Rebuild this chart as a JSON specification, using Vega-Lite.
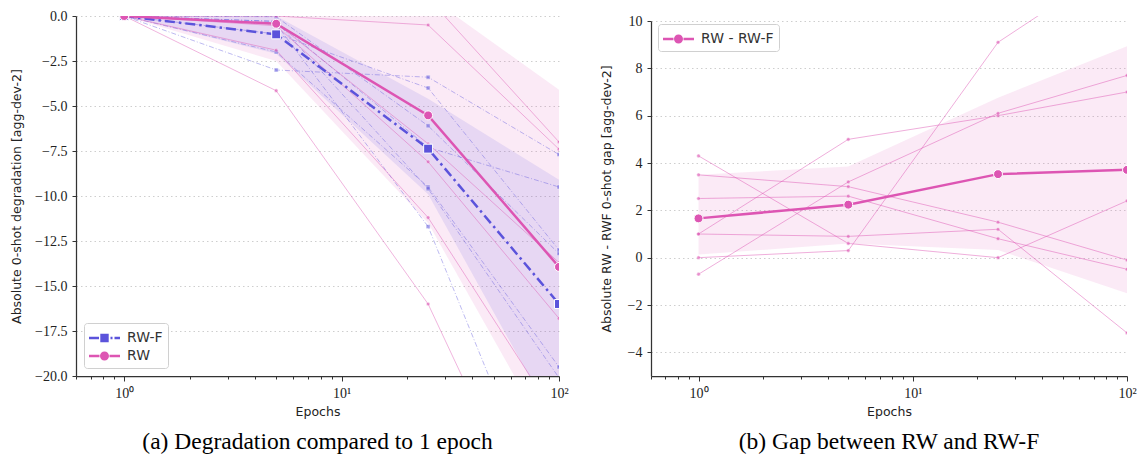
{
  "$schema": "https://vega.github.io/schema/vega-lite/v6.json",
  "background": "white",
  "padding": {"left": 10, "top": 9, "right": 5, "bottom": 5},
  "spacing": 31,
  "config": {
    "view": {"stroke": null},
    "axis": {"domainColor": "#333333", "domainWidth": 1.25, "tickColor": "#333333", "tickWidth": 1, "labelFont": "Liberation Serif", "labelFontSize": 14, "labelColor": "#222222", "titleFont": "DejaVu Sans", "titleFontSize": 12.5, "titleFontWeight": "normal", "titleColor": "#222222", "gridColor": "#c8c8c8", "gridDash": [1.5, 3], "gridWidth": 0.9, "labelPadding": 5},
    "legend": {"labelFont": "DejaVu Sans", "labelFontSize": 14, "labelColor": "#333333", "fillColor": "white", "strokeColor": "#d0d0d0", "cornerRadius": 3, "padding": 5, "symbolSize": 400, "symbolStrokeWidth": 0, "symbolOpacity": 1, "rowPadding": 1, "labelOffset": 18, "title": null},
    "title": {"font": "Liberation Serif", "fontSize": 23.5, "fontWeight": "normal", "color": "black", "orient": "bottom", "frame": "group", "anchor": "middle", "offset": 12}
  },
  "resolve": {"scale": {"color": "independent", "shape": "independent", "fill": "independent", "stroke": "independent"}},
  "datasets": {
    "band": [
      {"method": "RW-F", "epoch": 1, "lo": 0, "hi": 0},
      {"method": "RW-F", "epoch": 5, "lo": -2.1, "hi": 0},
      {"method": "RW-F", "epoch": 25, "lo": -9.9, "hi": -4.6},
      {"method": "RW-F", "epoch": 100, "lo": -23, "hi": -9.1},
      {"method": "RW", "epoch": 1, "lo": 0, "hi": 0},
      {"method": "RW", "epoch": 5, "lo": -2.5, "hi": 0.8},
      {"method": "RW", "epoch": 25, "lo": -11.5, "hi": 1.1},
      {"method": "RW", "epoch": 100, "lo": -24.4, "hi": -4.1}
    ],
    "runs": [
      {"method": "RW-F", "run": 1, "epoch": 1, "value": 0}, {"method": "RW-F", "run": 1, "epoch": 5, "value": -0.45}, {"method": "RW-F", "run": 1, "epoch": 25, "value": -11.7}, {"method": "RW-F", "run": 1, "epoch": 100, "value": -29.6},
      {"method": "RW-F", "run": 2, "epoch": 1, "value": 0}, {"method": "RW-F", "run": 2, "epoch": 5, "value": -0.04}, {"method": "RW-F", "run": 2, "epoch": 25, "value": -6.1}, {"method": "RW-F", "run": 2, "epoch": 100, "value": -13.2},
      {"method": "RW-F", "run": 3, "epoch": 1, "value": 0}, {"method": "RW-F", "run": 3, "epoch": 5, "value": -2.0}, {"method": "RW-F", "run": 3, "epoch": 25, "value": -9.5}, {"method": "RW-F", "run": 3, "epoch": 100, "value": -19.5},
      {"method": "RW-F", "run": 4, "epoch": 1, "value": 0}, {"method": "RW-F", "run": 4, "epoch": 5, "value": -0.3}, {"method": "RW-F", "run": 4, "epoch": 25, "value": -7.3}, {"method": "RW-F", "run": 4, "epoch": 100, "value": -9.5},
      {"method": "RW-F", "run": 5, "epoch": 1, "value": 0}, {"method": "RW-F", "run": 5, "epoch": 5, "value": -1.0}, {"method": "RW-F", "run": 5, "epoch": 25, "value": -4.0}, {"method": "RW-F", "run": 5, "epoch": 100, "value": -13.0},
      {"method": "RW-F", "run": 6, "epoch": 1, "value": 0}, {"method": "RW-F", "run": 6, "epoch": 5, "value": -0.3}, {"method": "RW-F", "run": 6, "epoch": 25, "value": -9.6}, {"method": "RW-F", "run": 6, "epoch": 100, "value": -20.1},
      {"method": "RW-F", "run": 7, "epoch": 1, "value": 0}, {"method": "RW-F", "run": 7, "epoch": 5, "value": -3.0}, {"method": "RW-F", "run": 7, "epoch": 25, "value": -3.4}, {"method": "RW-F", "run": 7, "epoch": 100, "value": -7.7},
      {"method": "RW", "run": 1, "epoch": 1, "value": 0}, {"method": "RW", "run": 1, "epoch": 5, "value": -4.15}, {"method": "RW", "run": 1, "epoch": 25, "value": -16.0}, {"method": "RW", "run": 1, "epoch": 100, "value": -31.5},
      {"method": "RW", "run": 2, "epoch": 1, "value": 0}, {"method": "RW", "run": 2, "epoch": 5, "value": -0.54}, {"method": "RW", "run": 2, "epoch": 25, "value": -8.1}, {"method": "RW", "run": 2, "epoch": 100, "value": -16.8},
      {"method": "RW", "run": 3, "epoch": 1, "value": 0}, {"method": "RW", "run": 3, "epoch": 5, "value": -1.9}, {"method": "RW", "run": 3, "epoch": 25, "value": -11.2}, {"method": "RW", "run": 3, "epoch": 100, "value": -22.5},
      {"method": "RW", "run": 4, "epoch": 1, "value": 0}, {"method": "RW", "run": 4, "epoch": 5, "value": -0.4}, {"method": "RW", "run": 4, "epoch": 25, "value": -7.1}, {"method": "RW", "run": 4, "epoch": 100, "value": -13.7},
      {"method": "RW", "run": 5, "epoch": 1, "value": 0}, {"method": "RW", "run": 5, "epoch": 5, "value": 3.0}, {"method": "RW", "run": 5, "epoch": 25, "value": 1.0}, {"method": "RW", "run": 5, "epoch": 100, "value": -7.0},
      {"method": "RW", "run": 6, "epoch": 1, "value": 0}, {"method": "RW", "run": 6, "epoch": 5, "value": 0.0}, {"method": "RW", "run": 6, "epoch": 25, "value": -0.5}, {"method": "RW", "run": 6, "epoch": 100, "value": -7.4},
      {"method": "RW", "run": 7, "epoch": 1, "value": 0}, {"method": "RW", "run": 7, "epoch": 5, "value": 0.9}, {"method": "RW", "run": 7, "epoch": 25, "value": 3.4}, {"method": "RW", "run": 7, "epoch": 100, "value": 0.7}
    ],
    "mean": [
      {"method": "RW-F", "epoch": 1, "value": 0}, {"method": "RW-F", "epoch": 5, "value": -1.02}, {"method": "RW-F", "epoch": 25, "value": -7.37}, {"method": "RW-F", "epoch": 100, "value": -16.0},
      {"method": "RW", "epoch": 1, "value": 0}, {"method": "RW", "epoch": 5, "value": -0.43}, {"method": "RW", "epoch": 25, "value": -5.52}, {"method": "RW", "epoch": 100, "value": -13.94}
    ],
    "gapband": [
      {"epoch": 1, "lo": 0.13, "hi": 3.5},
      {"epoch": 5, "lo": 0.6, "hi": 3.85},
      {"epoch": 25, "lo": 0.32, "hi": 6.76},
      {"epoch": 100, "lo": -1.5, "hi": 8.93}
    ],
    "gapruns": [
      {"run": 1, "epoch": 1, "gap": 4.3}, {"run": 1, "epoch": 5, "gap": 0.6}, {"run": 1, "epoch": 25, "gap": 0.0}, {"run": 1, "epoch": 100, "gap": 2.4},
      {"run": 2, "epoch": 1, "gap": 3.5}, {"run": 2, "epoch": 5, "gap": 3.0}, {"run": 2, "epoch": 25, "gap": 1.5}, {"run": 2, "epoch": 100, "gap": -0.1},
      {"run": 3, "epoch": 1, "gap": 2.5}, {"run": 3, "epoch": 5, "gap": 2.6}, {"run": 3, "epoch": 25, "gap": 0.8}, {"run": 3, "epoch": 100, "gap": -0.49},
      {"run": 4, "epoch": 1, "gap": 1.0}, {"run": 4, "epoch": 5, "gap": 0.9}, {"run": 4, "epoch": 25, "gap": 1.2}, {"run": 4, "epoch": 100, "gap": -3.18},
      {"run": 5, "epoch": 1, "gap": 1.0}, {"run": 5, "epoch": 5, "gap": 5.0}, {"run": 5, "epoch": 25, "gap": 6.0}, {"run": 5, "epoch": 100, "gap": 7.0},
      {"run": 6, "epoch": 1, "gap": 0.0}, {"run": 6, "epoch": 5, "gap": 0.3}, {"run": 6, "epoch": 25, "gap": 9.1}, {"run": 6, "epoch": 100, "gap": 12.7},
      {"run": 7, "epoch": 1, "gap": -0.7}, {"run": 7, "epoch": 5, "gap": 3.2}, {"run": 7, "epoch": 25, "gap": 6.1}, {"run": 7, "epoch": 100, "gap": 7.7}
    ],
    "gapmean": [
      {"series": "RW - RW-F", "epoch": 1, "gap": 1.66},
      {"series": "RW - RW-F", "epoch": 5, "gap": 2.24},
      {"series": "RW - RW-F", "epoch": 25, "gap": 3.53},
      {"series": "RW - RW-F", "epoch": 100, "gap": 3.71}
    ]
  },
  "hconcat": [
    {
      "width": 483,
      "height": 360,
      "title": {"text": "(a) Degradation compared to 1 epoch"},
      "layer": [
        {
          "data": {"name": "band"},
          "transform": [{"filter": "datum.method == 'RW'"}],
          "mark": {"type": "area", "clip": true, "color": "#dd55b3", "opacity": 0.12},
          "encoding": {
            "x": {"field": "epoch", "type": "quantitative", "scale": {"type": "log", "domain": [0.6, 100], "nice": false},
              "axis": {"values": [0.6, 0.7, 0.8, 0.9, 1, 2, 3, 4, 5, 6, 7, 8, 9, 10, 20, 30, 40, 50, 60, 70, 80, 90, 100], "labelExpr": "datum.value == 1 ? '10⁰' : datum.value == 10 ? '10¹' : datum.value == 100 ? '10²' : ''", "tickSize": {"condition": {"test": "datum.value == 1 || datum.value == 10 || datum.value == 100", "value": 5}, "value": 3}, "grid": false, "title": "Epochs", "titlePadding": 5, "labelPadding": 5, "labelOverlap": false, "labelFlush": false, "labelBound": false}},
            "y": {"field": "lo", "type": "quantitative", "scale": {"domain": [-20, 0], "nice": false, "zero": false},
              "axis": {"values": [-20, -17.5, -15, -12.5, -10, -7.5, -5, -2.5, 0], "format": ".1f", "title": "Absolute 0-shot degradation [agg-dev-2]", "grid": true, "tickSize": 4, "titlePadding": 11}},
            "y2": {"field": "hi"}
          }
        },
        {
          "data": {"name": "band"},
          "transform": [{"filter": "datum.method == 'RW-F'"}],
          "mark": {"type": "area", "clip": true, "color": "#5b53db", "opacity": 0.12},
          "encoding": {
            "x": {"field": "epoch", "type": "quantitative"},
            "y": {"field": "lo", "type": "quantitative"},
            "y2": {"field": "hi"}
          }
        },
        {
          "data": {"name": "runs"},
          "transform": [{"filter": "datum.method == 'RW-F'"}],
          "mark": {"type": "line", "clip": true, "color": "#5b53db", "strokeWidth": 0.8, "opacity": 0.5, "strokeDash": [5, 2, 1, 2]},
          "encoding": {
            "x": {"field": "epoch", "type": "quantitative"},
            "y": {"field": "value", "type": "quantitative"},
            "detail": {"field": "run", "type": "nominal"}
          }
        },
        {
          "data": {"name": "runs"},
          "transform": [{"filter": "datum.method == 'RW'"}],
          "mark": {"type": "line", "clip": true, "color": "#dd55b3", "strokeWidth": 0.8, "opacity": 0.55},
          "encoding": {
            "x": {"field": "epoch", "type": "quantitative"},
            "y": {"field": "value", "type": "quantitative"},
            "detail": {"field": "run", "type": "nominal"}
          }
        },
        {
          "data": {"name": "runs"},
          "transform": [{"filter": "datum.method == 'RW-F'"}],
          "mark": {"type": "point", "shape": "square", "filled": true, "clip": true, "color": "#5b53db", "size": 16, "opacity": 0.55, "stroke": "white", "strokeWidth": 0.5},
          "encoding": {
            "x": {"field": "epoch", "type": "quantitative"},
            "y": {"field": "value", "type": "quantitative"}
          }
        },
        {
          "data": {"name": "runs"},
          "transform": [{"filter": "datum.method == 'RW'"}],
          "mark": {"type": "point", "shape": "circle", "filled": true, "clip": true, "color": "#dd55b3", "size": 14, "opacity": 0.6, "stroke": "white", "strokeWidth": 0.5},
          "encoding": {
            "x": {"field": "epoch", "type": "quantitative"},
            "y": {"field": "value", "type": "quantitative"}
          }
        },
        {
          "data": {"name": "mean"},
          "transform": [{"filter": "datum.method == 'RW-F'"}],
          "mark": {"type": "line", "clip": true, "color": "#5b53db", "strokeWidth": 2.5, "strokeDash": [10, 4, 2.5, 4]},
          "encoding": {
            "x": {"field": "epoch", "type": "quantitative"},
            "y": {"field": "value", "type": "quantitative"}
          }
        },
        {
          "data": {"name": "mean"},
          "transform": [{"filter": "datum.method == 'RW'"}],
          "mark": {"type": "line", "clip": true, "color": "#dd55b3", "strokeWidth": 2.5},
          "encoding": {
            "x": {"field": "epoch", "type": "quantitative"},
            "y": {"field": "value", "type": "quantitative"}
          }
        },
        {
          "data": {"name": "mean"},
          "transform": [{"filter": "datum.method == 'RW-F'"}],
          "mark": {"type": "point", "shape": "square", "filled": true, "clip": true, "color": "#5b53db", "opacity": 1, "stroke": "white", "strokeWidth": 1, "size": 80},
          "encoding": {
            "x": {"field": "epoch", "type": "quantitative"},
            "y": {"field": "value", "type": "quantitative"}
          }
        },
        {
          "data": {"name": "mean"},
          "transform": [{"filter": "datum.method == 'RW'"}],
          "mark": {"type": "point", "shape": "circle", "filled": true, "clip": true, "color": "#dd55b3", "opacity": 1, "stroke": "white", "strokeWidth": 1, "size": 80},
          "encoding": {
            "x": {"field": "epoch", "type": "quantitative"},
            "y": {"field": "value", "type": "quantitative"}
          }
        },
        {
          "data": {"name": "mean"},
          "mark": {"type": "point", "filled": true, "clip": true, "opacity": 0},
          "encoding": {
            "x": {"field": "epoch", "type": "quantitative"},
            "y": {"field": "value", "type": "quantitative"},
            "color": {"field": "method", "type": "nominal", "scale": {"domain": ["RW-F", "RW"], "range": ["#5b53db", "#dd55b3"]},
              "legend": {"orient": "none", "legendX": 8, "legendY": 307, "title": null, "symbolStrokeWidth": 0, "symbolOpacity": 1}},
            "shape": {"field": "method", "type": "nominal", "scale": {"domain": ["RW-F", "RW"], "range": [
                "M-1,-0.125H0V0.125H-1Z M0.13,-0.42H0.97V0.42H0.13Z M1.15,-0.125H1.35V0.125H1.15Z M1.55,-0.125H2.1V0.125H1.55Z",
                "M-1,-0.125H0.05V0.125H-1Z M1.05,-0.125H2.1V0.125H1.05Z M1.0,0A0.45,0.45,0,1,1,0.1,0A0.45,0.45,0,1,1,1.0,0Z"]},
              "legend": {"orient": "none", "legendX": 8, "legendY": 307, "title": null, "symbolStrokeWidth": 0, "symbolOpacity": 1}}
          }
        }
      ]
    },
    {
      "width": 476,
      "height": 360,
      "title": {"text": "(b) Gap between RW and RW-F"},
      "layer": [
        {
          "data": {"name": "gapband"},
          "mark": {"type": "area", "clip": true, "color": "#dd55b3", "opacity": 0.12},
          "encoding": {
            "x": {"field": "epoch", "type": "quantitative", "scale": {"type": "log", "domain": [0.6, 100], "nice": false},
              "axis": {"values": [0.6, 0.7, 0.8, 0.9, 1, 2, 3, 4, 5, 6, 7, 8, 9, 10, 20, 30, 40, 50, 60, 70, 80, 90, 100], "labelExpr": "datum.value == 1 ? '10⁰' : datum.value == 10 ? '10¹' : datum.value == 100 ? '10²' : ''", "tickSize": {"condition": {"test": "datum.value == 1 || datum.value == 10 || datum.value == 100", "value": 5}, "value": 3}, "grid": false, "title": "Epochs", "titlePadding": 5, "labelPadding": 5, "labelOverlap": false, "labelFlush": false, "labelBound": false}},
            "y": {"field": "lo", "type": "quantitative", "scale": {"domain": [-5, 10], "nice": false, "zero": false, "range": [360, 5]},
              "axis": {"values": [-4, -2, 0, 2, 4, 6, 8, 10], "format": "d", "title": "Absolute RW - RWF 0-shot gap [agg-dev-2]", "grid": true, "tickSize": 4, "titlePadding": 14}},
            "y2": {"field": "hi"}
          }
        },
        {
          "mark": {"type": "rule", "color": "#808080", "strokeWidth": 1.6, "strokeDash": [6, 3.5]},
          "encoding": {"y": {"datum": 0, "type": "quantitative"}}
        },
        {
          "data": {"name": "gapruns"},
          "mark": {"type": "line", "clip": true, "color": "#dd55b3", "strokeWidth": 0.8, "opacity": 0.6},
          "encoding": {
            "x": {"field": "epoch", "type": "quantitative"},
            "y": {"field": "gap", "type": "quantitative"},
            "detail": {"field": "run", "type": "nominal"}
          }
        },
        {
          "data": {"name": "gapruns"},
          "mark": {"type": "point", "shape": "circle", "filled": true, "clip": true, "color": "#dd55b3", "size": 14, "opacity": 0.6, "stroke": "white", "strokeWidth": 0.5},
          "encoding": {
            "x": {"field": "epoch", "type": "quantitative"},
            "y": {"field": "gap", "type": "quantitative"}
          }
        },
        {
          "data": {"name": "gapmean"},
          "mark": {"type": "line", "clip": true, "color": "#dd55b3", "strokeWidth": 2.5},
          "encoding": {
            "x": {"field": "epoch", "type": "quantitative"},
            "y": {"field": "gap", "type": "quantitative"}
          }
        },
        {
          "data": {"name": "gapmean"},
          "mark": {"type": "point", "shape": "circle", "filled": true, "clip": true, "opacity": 1, "stroke": "white", "strokeWidth": 1, "size": 80},
          "encoding": {
            "x": {"field": "epoch", "type": "quantitative"},
            "y": {"field": "gap", "type": "quantitative"},
            "color": {"field": "series", "type": "nominal", "scale": {"domain": ["RW - RW-F"], "range": ["#dd55b3"]},
              "legend": {"orient": "none", "legendX": 7, "legendY": 8, "title": null, "symbolStrokeWidth": 0,
                "symbolType": "M-1,-0.125H0.05V0.125H-1Z M1.05,-0.125H2.1V0.125H1.05Z M1.0,0A0.45,0.45,0,1,1,0.1,0A0.45,0.45,0,1,1,1.0,0Z"}}
          }
        }
      ]
    }
  ]
}
